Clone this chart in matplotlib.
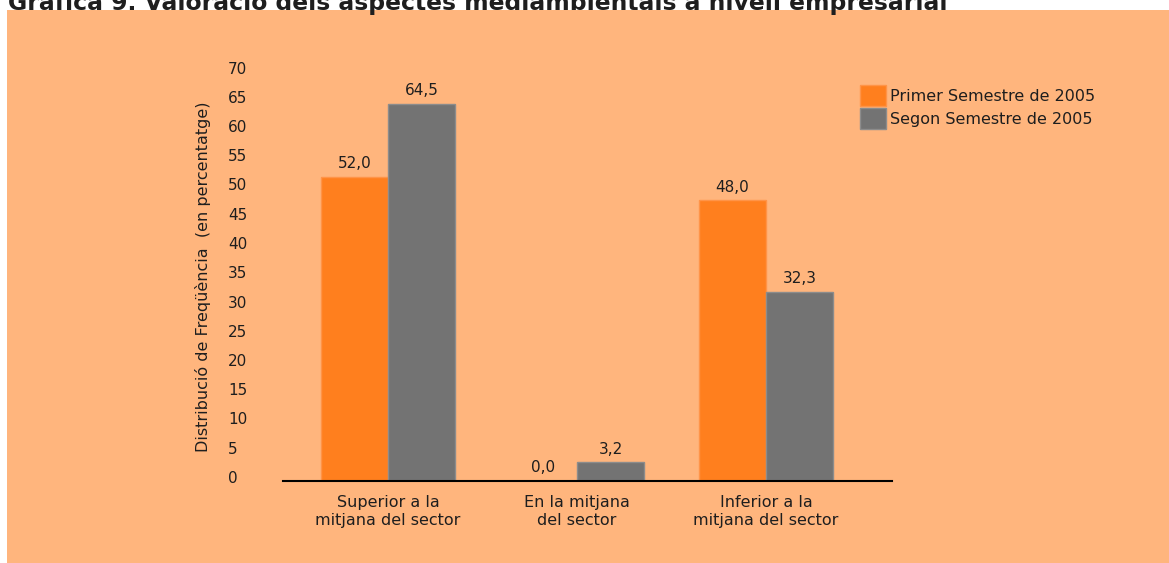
import matplotlib
matplotlib.use("Agg")
import matplotlib.pyplot as plt
import matplotlib.transforms as mtransforms
from matplotlib.patches import Patch, Rectangle
import numpy as np

# ---- data ----
categories = ["Superior a la\nmitjana del sector", "En la mitjana\ndel sector", "Inferior a la\nmitjana del sector"]
series_names = ["Primer Semestre de 2005", "Segon Semestre de 2005"]
primer = [52.0, 0.0, 48.0]
segon = [64.5, 3.2, 32.3]
yticks = list(range(0, 75, 5))
title = "Gràfica 9. Valoració dels aspectes mediambientals a nivell empresarial"
ylabel = "Distribució de Freqüència  (en percentatge)"

# ---- style ----
BG = "#FFB57D"
ORANGE = "#FF7F1E"
GRAY = "#737373"
TXT = "#1E1E1E"
FS = 11.5
W, H, DPI = 1169, 563, 100
plt.rcParams['font.family'] = ['DejaVu Sans']

fig = plt.figure(figsize=(W / DPI, H / DPI), dpi=DPI)
fig.patch.set_facecolor("white")
# orange panel
fig.patches.append(Rectangle((7 / W, 0), 1 - 7 / W, 1 - 10 / H, transform=fig.transFigure,
                             facecolor=BG, edgecolor="none", zorder=-10))

# axes placement in pixels
ax_left, ax_right = 283, 892
ax_bottom_px, ax_top_px = 481, 71.5
ax = fig.add_axes([ax_left / W, (H - ax_bottom_px) / H, (ax_right - ax_left) / W,
                   (ax_bottom_px - ax_top_px) / H])
ax.set_facecolor("none")

x = np.arange(len(categories))
bw = 0.355
b1 = ax.bar(x - bw / 2, primer, width=bw, color=ORANGE, edgecolor="#FF9448", linewidth=1,
            label=series_names[0], zorder=2)
b2 = ax.bar(x + bw / 2, segon, width=bw, color=GRAY, edgecolor="#8C8C8C", linewidth=1,
            label=series_names[1], zorder=2)

fmt = lambda v: f"{v:.1f}".replace(".", ",")
ax.bar_label(b1, labels=[fmt(v) for v in primer], padding=4, fontsize=FS - 0.5, color=TXT)
ax.bar_label(b2, labels=[fmt(v) for v in segon], padding=4, fontsize=FS - 0.5, color=TXT)

ax.set_xlim(-105 / 189, 2 + 126 / 189)
ax.set_ylim(0, 70)
ax.set_yticks(yticks)
ax.set_yticklabels([str(t) for t in yticks])
ax.set_xticks(x)
ax.set_xticklabels(categories, linespacing=1.3)

for s in ["top", "right", "left"]:
    ax.spines[s].set_visible(False)
ax.spines["bottom"].set_color("black")
ax.spines["bottom"].set_linewidth(1.5)
ax.spines["bottom"].set_zorder(3)

ax.tick_params(axis="y", length=0, pad=39.6, labelsize=FS - 0.5, labelcolor=TXT)
for lbl in ax.get_yticklabels():
    lbl.set_horizontalalignment("left")
    lbl.set_transform(lbl.get_transform() + mtransforms.ScaledTranslation(0, 0.04, fig.dpi_scale_trans))
ax.tick_params(axis="x", length=0, pad=10, labelsize=FS, labelcolor=TXT)

ax.set_ylabel(ylabel, fontsize=FS, color=TXT)
ax.yaxis.set_label_coords(-0.118, 0.5)

handles = [Patch(facecolor=ORANGE, edgecolor="#FF9448"), Patch(facecolor=GRAY, edgecolor="#8C8C8C")]
leg = fig.legend(handles, series_names, loc="upper left",
                 bbox_to_anchor=(860 / W, 1 - 85 / H), frameon=False, fontsize=FS,
                 handlelength=1.6, handleheight=1.65, handletextpad=0.3,
                 labelspacing=0.12, borderpad=0, borderaxespad=0, labelcolor=TXT)

fig.text(8 / W, 1 - 10 / H, title, ha="left", va="baseline", fontsize=16.9,
         fontweight="bold", color=TXT, zorder=5)

fig.savefig("out.png", dpi=DPI, facecolor=fig.get_facecolor())
